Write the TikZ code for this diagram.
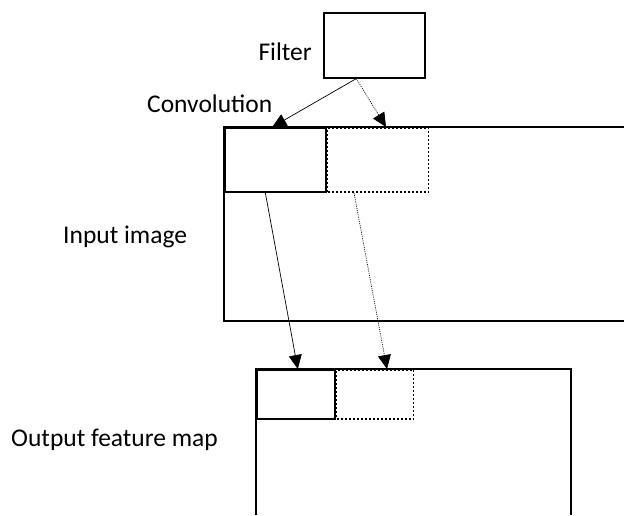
\documentclass[tikz,border=0pt]{standalone}
\usepackage{fontspec}
\setmainfont{Carlito}
\usetikzlibrary{positioning, arrows.meta}

\tikzset{
    box/.style={draw, line width=1.6pt, inner sep=0pt, anchor=north west},
    dotbox/.style={box, line width=1.8pt, dash pattern=on 2pt off 2pt},
    conv/.style={-{Triangle[length=14pt, width=13pt]}, line width=0.7pt},
    convdot/.style={conv, dash pattern=on 1pt off 1.2pt},
    lbl/.style={font=\fontsize{25.5}{28}\selectfont, inner sep=0pt}
}

\begin{document}
\begin{tikzpicture}[x=1pt, y=-1pt]
    \useasboundingbox (0,0) rectangle (624,515);

    % Filter
    \node[box, minimum width=101pt, minimum height=65pt] (filter) at (323,12) {};
    \node[lbl, anchor=east] (filterlbl) at (312,52) {Filter};

    % Input image (open at the right)
    \coordinate (inTR) at (624,127);
    \coordinate (inBR) at (624,321);
    \draw[line width=1.6pt] (inTR) -- (224,127) -- (224,321) -- (inBR);
    \node[box, minimum width=101pt, minimum height=64pt] (kern) at (224,127) {};
    \node[dotbox, minimum width=101pt, minimum height=64pt] (kernnext) at (kern.north east) {};
    \node[lbl, anchor=west] (convlbl) at (147,104) {Convolution};
    \node[lbl, anchor=west] (inlbl) at (63,237) {Input image};

    % Output feature map (open at the bottom)
    \coordinate (outBL) at (256,515);
    \coordinate (outBR) at (571,515);
    \draw[line width=1.6pt] (outBL) -- (256,369) -- (571,369) -- (outBR);
    \node[box, minimum width=78pt, minimum height=49pt] (feat) at (256,369) {};
    \node[dotbox, minimum width=77pt, minimum height=49pt] (featnext) at (feat.north east) {};
    \node[lbl, anchor=west] (outlbl) at (11,440) {Output feature map};

    % Arrows
    \draw[conv] ([xshift=-18pt]filter.south) -- ([xshift=-3pt]kern.north);
    \draw[convdot] ([xshift=-18pt]filter.south) -- ([xshift=8pt]kernnext.north);
    \draw[conv] ([xshift=-10pt]kern.south) -- ([xshift=2pt]feat.north);
    \draw[convdot] ([xshift=-24pt]kernnext.south) -- ([xshift=12pt]featnext.north);
\end{tikzpicture}
\end{document}
